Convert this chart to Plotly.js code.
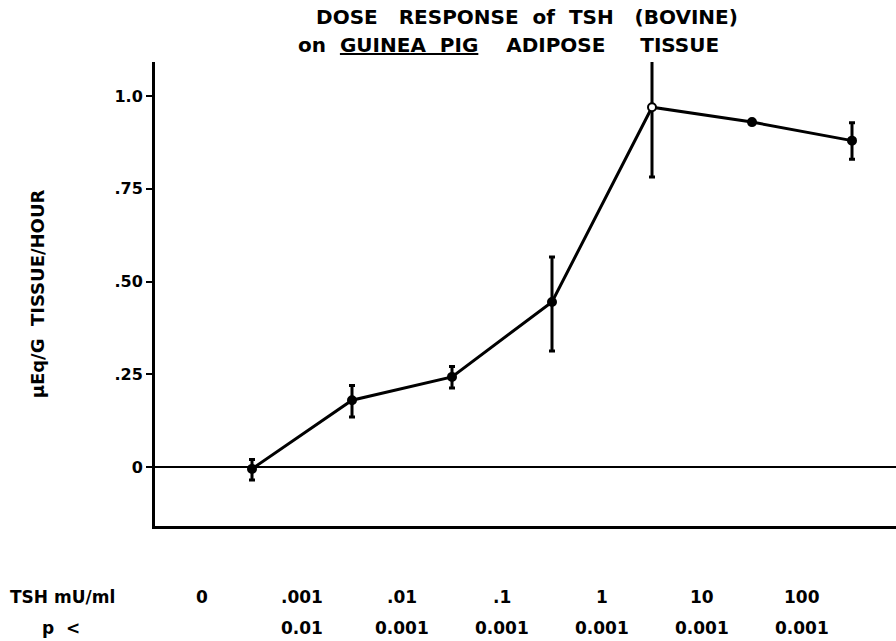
<!DOCTYPE html>
<html>
<head>
<meta charset="utf-8">
<script src="https://cdn.plot.ly/plotly-3.0.1.min.js"></script>
<style>
  html, body { margin: 0; padding: 0; background: #fff; }
  #chart { width: 896px; height: 641px; }
</style>
</head>
<body>
<div id="chart"></div>
<script>
// TSH doses (mU/ml), one column per dose
const doseLabels = ['0', '.001', '.01', '.1', '1', '10', '100'];
// significance level for each dose versus control
const pLabels = ['', '0.01', '0.001', '0.001', '0.001', '0.001', '0.001'];
// response in µEq/G tissue/hour
const response = [-0.005, 0.180, 0.243, 0.445, 0.970, 0.930, 0.880];
// error bar half-lengths (upper / lower)
const errPlus  = [0.025, 0.040, 0.028, 0.121, 0.190, 0.000, 0.048];
const errMinus = [0.030, 0.045, 0.030, 0.132, 0.188, 0.000, 0.050];
// y axis ticks
const yTickVals = [0, 0.25, 0.5, 0.75, 1.0];
const yTickText = ['0', '.25', '.50', '.75', '1.0'];

const FONT = '"DejaVu Sans", sans-serif';
const sp = n => '&nbsp;'.repeat(n);
const idx = doseLabels.map((_, i) => i);

const trace = {
  x: idx,
  y: response,
  type: 'scatter',
  mode: 'lines+markers',
  line: { color: '#000', width: 3 },
  marker: {
    color: idx.map(i => i === 4 ? '#fff' : '#000'),
    line: { color: '#000', width: 2 },
    size: 8
  },
  error_y: {
    type: 'data',
    symmetric: false,
    array: errPlus,
    arrayminus: errMinus,
    color: '#000',
    thickness: 3,
    width: 3
  },
  hoverinfo: 'x+y'
};

// dose labels and p values sit a little left of each column
const labelShift = -50;
const labelFont = { family: FONT, size: 17, color: '#000' };
const annotations = [];
idx.forEach(i => {
  annotations.push({
    x: i, xref: 'x', y: 597, yref: 'paper',
    text: '<b>' + doseLabels[i] + '</b>',
    showarrow: false, xshift: labelShift, yanchor: 'middle',
    font: labelFont
  });
  if (pLabels[i]) {
    annotations.push({
      x: i, xref: 'x', y: 628, yref: 'paper',
      text: '<b>' + pLabels[i] + '</b>',
      showarrow: false, xshift: labelShift, yanchor: 'middle',
      font: labelFont
    });
  }
});
// row headers
annotations.push({
  x: 8, xref: 'paper', y: 597, yref: 'paper', xanchor: 'left', yanchor: 'middle',
  text: '<b>TSH' + sp(1) + 'mU/ml</b>', showarrow: false, font: labelFont
});
annotations.push({
  x: 40, xref: 'paper', y: 628, yref: 'paper', xanchor: 'left', yanchor: 'middle',
  text: '<b>p' + sp(2) + '&lt;</b>', showarrow: false, font: labelFont
});
// second title line
annotations.push({
  x: 508, xref: 'paper', y: 45, yref: 'paper', xanchor: 'center', yanchor: 'middle',
  text: '<b>on' + sp(2) + '<u>GUINEA' + sp(2) + 'PIG</u>' + sp(4) +
        'ADIPOSE' + sp(5) + 'TISSUE</b>',
  showarrow: false,
  font: { family: FONT, size: 20, color: '#000' }
});

// convert pixel-placed annotation coords into paper units
const W = 896, H = 641, ML = 155, MR = 0, MT = 62, MB = 115;
annotations.forEach(a => {
  if (a.yref === 'paper') a.y = 1 - (a.y - MT) / (H - MT - MB);
  if (a.xref === 'paper') a.x = (a.x - ML) / (W - ML - MR);
});

const layout = {
  width: W, height: H,
  margin: { l: ML, r: MR, t: MT, b: MB, pad: 0 },
  paper_bgcolor: '#fff', plot_bgcolor: '#fff',
  showlegend: false,
  title: {
    text: '<b>DOSE' + sp(3) + 'RESPONSE' + sp(2) + 'of' + sp(2) + 'TSH' + sp(3) + '(BOVINE)</b>',
    x: 527 / W, xanchor: 'center', xref: 'container',
    y: 1 - 17 / H, yanchor: 'middle', yref: 'container',
    font: { family: FONT, size: 20, color: '#000' }
  },
  xaxis: {
    range: [-0.97, 6.44],
    showgrid: false, zeroline: false,
    showticklabels: false, ticks: '',
    showline: true, linecolor: '#000', linewidth: 3,
    fixedrange: true
  },
  yaxis: {
    range: [-0.159, 1.092],
    tickvals: yTickVals, ticktext: yTickText,
    ticks: 'outside', ticklen: 6, tickwidth: 2, tickcolor: '#000',
    tickfont: { family: FONT, size: 16, color: '#000', weight: 'bold' },
    showgrid: false,
    zeroline: true, zerolinecolor: '#000', zerolinewidth: 2.5,
    showline: true, linecolor: '#000', linewidth: 3,
    title: {
      text: '<b>µEq/G' + sp(2) + 'TISSUE/HOUR</b>',
      standoff: 66,
      font: { family: FONT, size: 18, color: '#000' }
    },
    fixedrange: true
  },
  annotations: annotations
};

Plotly.newPlot('chart', [trace], layout, { displayModeBar: false, staticPlot: true });
</script>
</body>
</html>
